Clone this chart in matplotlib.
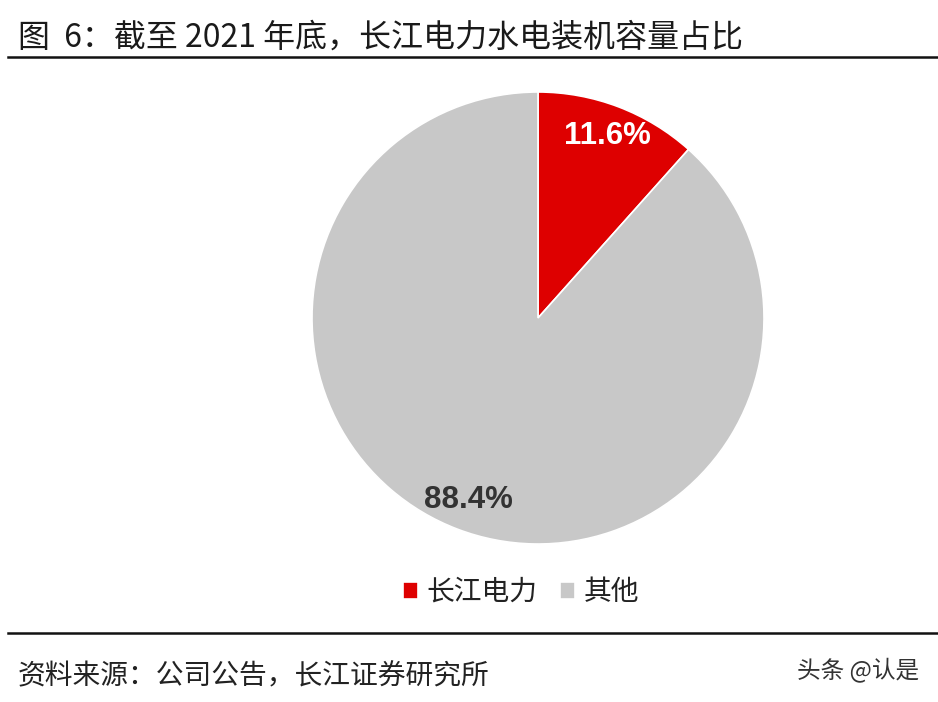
import matplotlib
matplotlib.use('Agg')
import matplotlib.pyplot as plt
from matplotlib.lines import Line2D

plt.rcParams['font.family'] = ['Noto Sans CJK SC', 'DejaVu Sans']

labels = ['长江电力', '其他']
shares = [11.6, 88.4]
colors = ['#DE0000', '#C8C8C8']
pct_colors = ['white', '#333333']

title = '图  6：截至 2021 年底，长江电力水电装机容量占比'
source = '资料来源：公司公告，长江证券研究所'
mark = '头条 @认是'

W, H = 938, 702
fig = plt.figure(figsize=(W / 100, H / 100), dpi=100)
fig.patch.set_facecolor('white')

# pie axes: centre (538, 318), radius ~226 px
cx, cy, r = 538, 318, 226
ax = fig.add_axes([(cx - r) / W, 1 - (cy + r) / H, 2 * r / W, 2 * r / H])
wedges, texts, autotexts = ax.pie(
    shares, colors=colors, startangle=90, counterclock=False,
    autopct='%.1f%%', pctdistance=0.86, radius=1,
    wedgeprops=dict(edgecolor='white', linewidth=1.2))
for t, c in zip(autotexts, pct_colors):
    t.set_color(c)
    t.set_fontsize(22.5)
    t.set_fontweight('bold')
    t.set_family(['Liberation Sans', 'DejaVu Sans'])
ax.set_xlim(-1.0, 1.0)
ax.set_ylim(-1.0, 1.0)
ax.set_aspect('equal')
ax.axis('off')

# legend
fig.legend(wedges, labels, loc='center', bbox_to_anchor=(521 / W, 1 - 592 / H),
           ncol=2, frameon=False, fontsize=20, handlelength=0.55, handleheight=0.55,
           handletextpad=0.3, columnspacing=0.8, labelcolor='#222222')

# title and rules
fig.text(18 / W, 1 - 38 / H, title, fontsize=23, color='#1a1a1a', va='center', ha='left')
fig.add_artist(Line2D([8 / W, 1], [1 - 57 / H, 1 - 57 / H], color='#111111', linewidth=1.8))
fig.add_artist(Line2D([8 / W, 1], [1 - 633 / H, 1 - 633 / H], color='#111111', linewidth=1.8))

# footer
fig.text(18 / W, 1 - 676 / H, source, fontsize=20, color='#222222', va='center', ha='left')
fig.text(919 / W, 1 - 671 / H, mark, fontsize=17, color='#333333', va='center', ha='right')

fig.savefig('out.png', dpi=100, facecolor='white')
